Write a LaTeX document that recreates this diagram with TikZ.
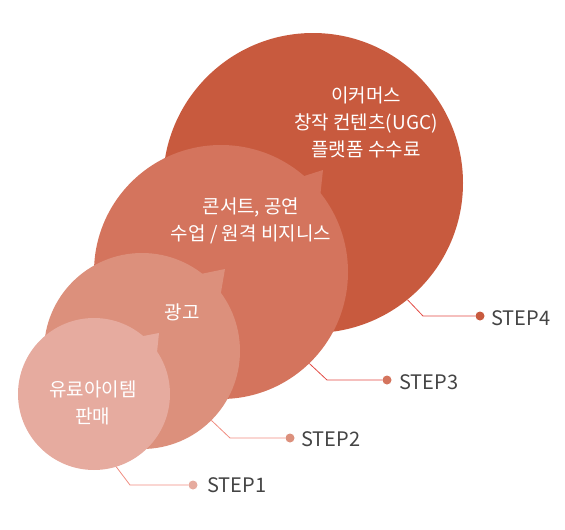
\documentclass[tikz,border=0pt]{standalone}
\usepackage{fontspec}
\setmainfont{Noto Sans CJK KR}
\definecolor{stepfour}{HTML}{C85A3E}
\definecolor{stepthree}{HTML}{D4745D}
\definecolor{steptwo}{HTML}{DC907C}
\definecolor{stepone}{HTML}{E6AB9F}
\definecolor{linedark}{HTML}{E24B44}
\definecolor{linelight}{HTML}{F08C80}
\definecolor{stepgray}{HTML}{444444}
\begin{document}
\begin{tikzpicture}[x=1pt,y=-1pt,
  bubble/.style={circle,inner sep=0pt,draw=none},
  bubbletext/.style={text=white,align=center,font=\fontsize{19}{27}\selectfont},
  stepdot/.style={circle,inner sep=0pt,minimum size=9pt},
  steptext/.style={anchor=base west,inner sep=0pt,text=stepgray,font=\fontsize{20}{24}\selectfont}]
\useasboundingbox (0,0) rectangle (565,530);
% step 4
\node[bubble,fill=stepfour,minimum size=300pt] (c4) at (313,183) {};
% step 3
\node[bubble,fill=stepthree,minimum size=254pt] (c3) at (221,272) {};
\fill[stepthree] (298,178) -- (323,170) -- (320,198) -- cycle;
% step 2
\node[bubble,fill=steptwo,minimum size=196pt] (c2) at (142,351) {};
\fill[steptwo] (196,275) -- (225,269) -- (220,298) -- cycle;
% step 1
\node[bubble,fill=stepone,minimum size=152pt] (c1) at (94,394) {};
\fill[stepone] (133,338) -- (159,333) -- (156,362) -- cycle;
% texts
\node[bubbletext] (t4) at (366,122) {이커머스\\창작 컨텐츠(UGC)\\플랫폼 수수료};
\node[bubbletext] (t3) at (251,221) {콘서트, 공연\\수업 / 원격 비지니스};
\node[bubbletext] (t2) at (182,312) {광고};
\node[bubbletext] (t1) at (93,403) {유료아이템\\판매};
% connectors
\coordinate (k4) at (423,316);
\coordinate (k3) at (327,380);
\coordinate (k2) at (230,438);
\coordinate (k1) at (130,485);
\node[stepdot,fill=stepfour] (d4) at (480,316) {};
\node[stepdot,fill=stepthree] (d3) at (387,380) {};
\node[stepdot,fill=steptwo] (d2) at (290,438) {};
\node[stepdot,fill=stepone] (d1) at (193,485) {};
\draw[linedark,line width=0.8pt] (c4.-51) -- (k4) -- (d4);
\draw[linedark,line width=0.8pt] (c3.-46) -- (k3) -- (d3);
\draw[linelight,line width=0.8pt] (c2.-45) -- (k2) -- (d2);
\draw[linelight,line width=0.8pt] (c1.-73) -- (k1) -- (d1);
\node[steptext] (s4) at (491,325) {STEP4};
\node[steptext] (s3) at (399,389) {STEP3};
\node[steptext] (s2) at (301,446) {STEP2};
\node[steptext] (s1) at (207,492) {STEP1};
\end{tikzpicture}
\end{document}
